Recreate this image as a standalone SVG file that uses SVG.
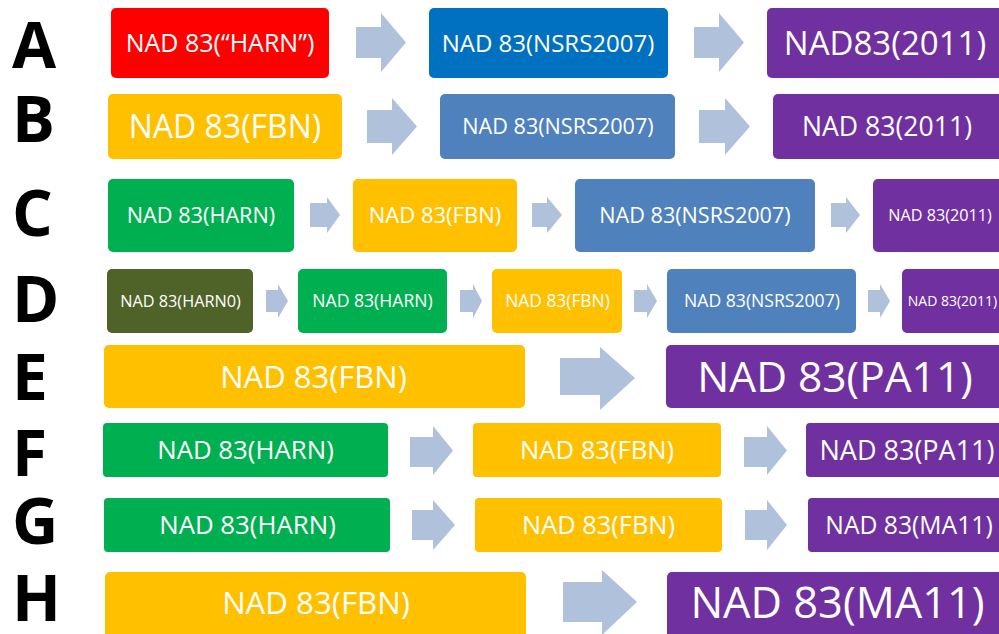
<svg xmlns="http://www.w3.org/2000/svg" width="999" height="634" viewBox="0 0 999 634">
<style>
.lbl{font-family:"Open Sans","Liberation Sans",sans-serif;font-weight:700;font-size:64px;fill:#000}
.t{font-family:"Open Sans","Liberation Sans",sans-serif;fill:#fff;text-anchor:middle}
.red{fill:#FF0000}.blu{fill:#0070C0}.lb{fill:#4F81BD}.pur{fill:#7030A0}.yel{fill:#FFC000}.grn{fill:#00B050}.olv{fill:#4F6228}
.arr{fill:#B0C1DC}
</style>
<rect width="999" height="634" fill="#fff"/>
<g id="labels">
<text class="lbl" x="12" y="68">A</text>
<text class="lbl" x="12" y="142">B</text>
<text class="lbl" x="12" y="236">C</text>
<text class="lbl" x="12" y="322">D</text>
<text class="lbl" x="12" y="400">E</text>
<text class="lbl" x="12" y="476">F</text>
<text class="lbl" x="12" y="544">G</text>
<text class="lbl" x="12" y="621">H</text>
</g>
<g id="connectors">
<polygon class="arr" points="356,27 381,27 381,13 406,42.5 381,72 381,58 356,58"/>
<polygon class="arr" points="694,27 719,27 719,13 744,42.5 719,72 719,58 694,58"/>
<polygon class="arr" points="367,110 392,110 392,98 417,126.5 392,155 392,143 367,143"/>
<polygon class="arr" points="699,110 725,110 725,98 750,126.5 725,155 725,143 699,143"/>
<polygon class="arr" points="310,203 327,203 327,197 340,215 327,233 327,227 310,227"/>
<polygon class="arr" points="532,203 547,203 547,197 562,215 547,233 547,227 532,227"/>
<polygon class="arr" points="831,203 846,203 846,197 860,215 846,233 846,227 831,227"/>
<polygon class="arr" points="266,290 278,290 278,284 288,301 278,318 278,312 266,312"/>
<polygon class="arr" points="460,290 473,290 473,284 482,301 473,318 473,312 460,312"/>
<polygon class="arr" points="634,290 647,290 647,284 657,301 647,318 647,312 634,312"/>
<polygon class="arr" points="868,290 880,290 880,284 890,301 880,318 880,312 868,312"/>
<polygon class="arr" points="560,358 600,358 600,347 635,378 600,410 600,395 560,395"/>
<polygon class="arr" points="410,437 433,437 433,426 453,450.5 433,475 433,467 410,467"/>
<polygon class="arr" points="744,437 767,437 767,426 787,450.5 767,475 767,467 744,467"/>
<polygon class="arr" points="412,510 433,510 433,500 455,525 433,550 433,540 412,540"/>
<polygon class="arr" points="745,510 767,510 767,500 787,525 767,550 767,540 745,540"/>
<polygon class="arr" points="563,582 602,582 602,570 637,602 602,635 602,622 563,622"/>
</g>
<g id="A1"><rect class="red" x="111" y="8" width="218" height="70" rx="5"/><text class="t" x="220" y="52" font-size="25">NAD 83(“HARN”)</text></g>
<g id="A2"><rect class="blu" x="429" y="8" width="239" height="70" rx="5"/><text class="t" x="548" y="51.6" font-size="24">NAD 83(NSRS2007)</text></g>
<g id="A3"><rect class="pur" x="767" y="8" width="245" height="70" rx="5"/><text class="t" x="885" y="55" font-size="33">NAD83(2011)</text></g>
<g id="B1"><rect class="yel" x="108" y="94" width="234" height="65" rx="5"/><text class="t" x="225" y="138" font-size="32">NAD 83(FBN)</text></g>
<g id="B2"><rect class="lb" x="440" y="94" width="235" height="65" rx="5"/><text class="t" x="558" y="134.2" font-size="21.6">NAD 83(NSRS2007)</text></g>
<g id="B3"><rect class="pur" x="773" y="94" width="240" height="65" rx="5"/><text class="t" x="887" y="136" font-size="26.6">NAD 83(2011)</text></g>
<g id="C1"><rect class="grn" x="108" y="179" width="186" height="73" rx="5"/><text class="t" x="201" y="223.3" font-size="21.7">NAD 83(HARN)</text></g>
<g id="C2"><rect class="yel" x="353" y="179" width="164" height="73" rx="5"/><text class="t" x="435" y="223.3" font-size="22">NAD 83(FBN)</text></g>
<g id="C3"><rect class="lb" x="575" y="179" width="240" height="73" rx="5"/><text class="t" x="695" y="223.2" font-size="21.6">NAD 83(NSRS2007)</text></g>
<g id="C4"><rect class="pur" x="873" y="179" width="140" height="73" rx="5"/><text class="t" x="940" y="221.3" font-size="16.2">NAD 83(2011)</text></g>
<g id="D1"><rect class="olv" x="107" y="269" width="146" height="64" rx="5"/><text class="t" x="180.5" y="306.8" font-size="16.3">NAD 83(HARN0)</text></g>
<g id="D2"><rect class="grn" x="298" y="269" width="149" height="64" rx="5"/><text class="t" x="372.5" y="307.3" font-size="17.6">NAD 83(HARN)</text></g>
<g id="D3"><rect class="yel" x="492" y="269" width="130" height="64" rx="5"/><text class="t" x="557.5" y="307.2" font-size="17.4">NAD 83(FBN)</text></g>
<g id="D4"><rect class="lb" x="667" y="269" width="189" height="64" rx="5"/><text class="t" x="762" y="307.3" font-size="17.6">NAD 83(NSRS2007)</text></g>
<g id="D5"><rect class="pur" x="902" y="269" width="110" height="64" rx="5"/><text class="t" x="952.5" y="306" font-size="14">NAD 83(2011)</text></g>
<g id="E1"><rect class="yel" x="104" y="345" width="421" height="63" rx="5"/><text class="t" x="313.5" y="387.6" font-size="31">NAD 83(FBN)</text></g>
<g id="E2"><rect class="pur" x="666" y="345" width="346" height="63" rx="5"/><text class="t" x="835" y="391.7" font-size="42.5">NAD 83(PA11)</text></g>
<g id="F1"><rect class="grn" x="103" y="423" width="285" height="54" rx="4"/><text class="t" x="245.5" y="459.2" font-size="25.8">NAD 83(HARN)</text></g>
<g id="F2"><rect class="yel" x="473" y="423" width="248" height="54" rx="4"/><text class="t" x="597" y="459.1" font-size="25.6">NAD 83(FBN)</text></g>
<g id="F3"><rect class="pur" x="806" y="423" width="206" height="54" rx="4"/><text class="t" x="907" y="459.6" font-size="27">NAD 83(PA11)</text></g>
<g id="G1"><rect class="grn" x="104" y="498" width="286" height="54" rx="4"/><text class="t" x="247.5" y="534.2" font-size="25.8">NAD 83(HARN)</text></g>
<g id="G2"><rect class="yel" x="475" y="498" width="247" height="54" rx="4"/><text class="t" x="598.5" y="534.1" font-size="25.4">NAD 83(FBN)</text></g>
<g id="G3"><rect class="pur" x="808" y="498" width="204" height="54" rx="4"/><text class="t" x="909" y="533.8" font-size="24.7">NAD 83(MA11)</text></g>
<g id="H1"><rect class="yel" x="105" y="572" width="421" height="70" rx="5"/><text class="t" x="316" y="613.6" font-size="31.2">NAD 83(FBN)</text></g>
<g id="H2"><rect class="pur" x="667" y="572" width="345" height="70" rx="5"/><text class="t" x="837.5" y="618" font-size="43.4">NAD 83(MA11)</text></g>
</svg>
